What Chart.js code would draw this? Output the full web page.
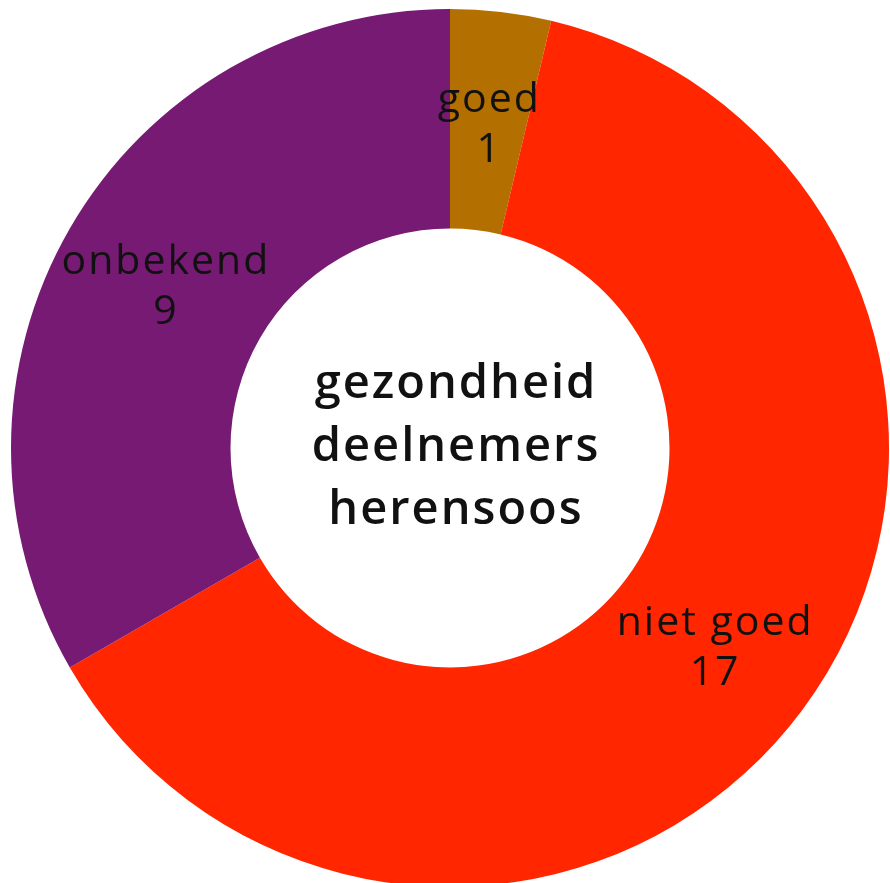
<!DOCTYPE html>
<html>
<head>
<meta charset="utf-8">
<script src="https://cdn.jsdelivr.net/npm/chart.js@4.4.1/dist/chart.umd.min.js"></script>
<style>
  html, body { margin: 0; padding: 0; background: #fff; overflow: hidden; }
  #wrap { width: 890px; height: 890px; }
</style>
</head>
<body>
<div id="wrap"><canvas id="chart"></canvas></div>
<script>
const labels = ['goed', 'niet goed', 'onbekend'];
const counts = [1, 17, 9];
const colors = ['#B36F00', '#FF2600', '#761A73'];
const centerLines = ['gezondheid', 'deelnemers', 'herensoos'];

// tekst in de segmenten
const sliceLabels = {
    id: 'sliceLabels',
    afterDatasetsDraw(chart) {
        const ctx = chart.ctx;
        const meta = chart.getDatasetMeta(0);
        ctx.save();
        ctx.fillStyle = '#111';
        ctx.textAlign = 'center';
        ctx.textBaseline = 'middle';
        ctx.font = '41px "Open Sans"';
        ctx.letterSpacing = '2px';
        meta.data.forEach((arc, i) => {
            const p = arc.tooltipPosition();
            ctx.fillText(labels[i], p.x + 1, p.y - 21);
            ctx.fillText(String(counts[i]), p.x + 1, p.y + 29);
        });
        ctx.restore();
    }
};

// titel in het midden
const centerText = {
    id: 'centerText',
    afterDraw(chart) {
        const ctx = chart.ctx;
        const arc = chart.getDatasetMeta(0).data[0];
        ctx.save();
        ctx.fillStyle = '#111';
        ctx.textAlign = 'center';
        ctx.textBaseline = 'middle';
        ctx.font = '600 47px "Open Sans"';
        ctx.letterSpacing = '2px';
        centerLines.forEach((t, i) => {
            ctx.fillText(t, arc.x + 6, arc.y + (i - 1) * 63);
        });
        ctx.restore();
    }
};

new Chart(document.getElementById('chart'), {
    type: 'doughnut',
    data: {
        labels: labels,
        datasets: [{
            data: counts,
            backgroundColor: colors,
            borderWidth: 0
        }]
    },
    options: {
        responsive: true,
        maintainAspectRatio: false,
        animation: false,
        cutout: '50%',
        layout: { padding: { top: 9, bottom: 3, left: 11, right: 1 } },
        plugins: {
            legend: { display: false },
            tooltip: { enabled: false }
        },
        events: []
    },
    plugins: [sliceLabels, centerText]
});
</script>
</body>
</html>
